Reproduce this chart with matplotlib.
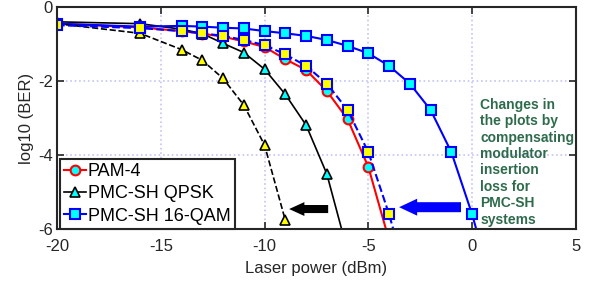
import matplotlib
matplotlib.use("Agg")
import matplotlib.pyplot as plt

plt.rcParams['font.family'] = ['Liberation Sans', 'DejaVu Sans']
plt.rcParams['axes.unicode_minus'] = False

# PAM-4
x_pam = [-20, -16, -14, -13, -12, -11, -10, -9, -8, -7, -6, -5, -4]
y_pam = [-0.45, -0.55, -0.65, -0.72, -0.8, -0.93, -1.08, -1.41, -1.7, -2.27, -3.03, -4.32, -6.3]

# PMC-SH QPSK
x_qpsk = [-20, -16, -14, -13, -12, -11, -10, -9, -8, -7, -6]
y_qpsk = [-0.4, -0.45, -0.6, -0.72, -0.98, -1.23, -1.68, -2.36, -3.19, -4.51, -6.6]

# PMC-SH QPSK, insertion loss compensated
x_qpsk_c = [-20, -16, -14, -13, -12, -11, -10, -9]
y_qpsk_c = [-0.45, -0.71, -1.15, -1.44, -1.93, -2.65, -3.73, -5.76]

# PMC-SH 16-QAM
x_16 = [-20, -16, -14, -13, -12, -11, -10, -9, -8, -7, -6, -5, -4, -3, -2, -1, 0, 1]
y_16 = [-0.45, -0.53, -0.51, -0.53, -0.56, -0.58, -0.65, -0.71, -0.78, -0.89,
        -1.05, -1.25, -1.59, -2.07, -2.78, -3.92, -5.6, -7.6]

# PMC-SH 16-QAM, insertion loss compensated
x_16_c = [-20, -16, -14, -13, -12, -11, -10, -9, -8, -7, -6, -5, -4, -3]
y_16_c = [-0.49, -0.57, -0.65, -0.71, -0.78, -0.89, -1.03, -1.28, -1.59, -2.07,
          -2.78, -3.92, -5.6, -7.6]

note = "Changes in\nthe plots by\ncompensating\nmodulator\ninsertion\nloss for\nPMC-SH\nsystems"

fig = plt.figure(figsize=(5.95, 2.81), dpi=100)
ax = fig.add_axes([0.0958, 0.185, 0.872, 0.79])

l1, = ax.plot(x_pam, y_pam, '-o', color='red', lw=1.5, mfc='cyan', mec='red',
              mew=1.5, ms=7, label='PAM-4')
l2, = ax.plot(x_qpsk, y_qpsk, '-^', color='black', lw=1.2, mfc='cyan', mec='black',
              mew=1.2, ms=7, label='PMC-SH QPSK')
l3, = ax.plot(x_16, y_16, '-s', color='blue', lw=1.5, mfc='cyan', mec='blue',
              mew=1.5, ms=6.5, label='PMC-SH 16-QAM')
ax.plot(x_qpsk_c, y_qpsk_c, '--^', color='black', lw=1.2, mfc='yellow', mec='black',
        mew=1.2, ms=7)
ax.plot(x_16_c, y_16_c, '--s', color='blue', lw=1.5, mfc='yellow', mec='blue',
        mew=1.5, ms=6.5)

ax.annotate('', xy=(-8.95, -5.46), xytext=(-6.8, -5.46),
            arrowprops=dict(arrowstyle='simple,head_length=1.1,head_width=1.0,tail_width=0.58',
                            color='black', mutation_scale=10, lw=0))
ax.annotate('', xy=(-3.65, -5.41), xytext=(-0.4, -5.41),
            arrowprops=dict(arrowstyle='simple,head_length=1.3,head_width=1.22,tail_width=0.72',
                            color='blue', mutation_scale=10, lw=0))

ax.text(0.4, -2.45, note, color='#2e6b4c', fontsize=10, fontweight='bold',
        va='top', ha='left', linespacing=1.22)

ax.set_xlim(-20, 5)
ax.set_ylim(-6, 0)
ax.set_xticks([-20, -15, -10, -5, 0, 5])
ax.set_yticks([0, -2, -4, -6])
ax.grid(True, ls=':', color='#c4c4f4', lw=1.2)
ax.tick_params(direction='in', length=5, width=1.2, top=True, right=True,
               labelsize=12, colors='#262626', pad=3)
ax.tick_params(axis='x', pad=7)
for s in ax.spines.values():
    s.set_linewidth(1.5)
    s.set_color('#262626')

ax.set_xlabel('Laser power (dBm)', fontsize=12, color='#262626', labelpad=5)
ax.set_ylabel('log10 (BER)', fontsize=12, color='#262626', labelpad=3)

leg = ax.legend(handles=[l1, l2, l3], loc='lower left', bbox_to_anchor=(0.005, 0.0),
                fontsize=13, handlelength=1.2, handletextpad=0.1, labelspacing=0.28,
                borderpad=0.25, borderaxespad=0, fancybox=False, framealpha=1,
                edgecolor='#262626')
leg.get_frame().set_linewidth(1.5)

fig.savefig('out.png', dpi=100)
